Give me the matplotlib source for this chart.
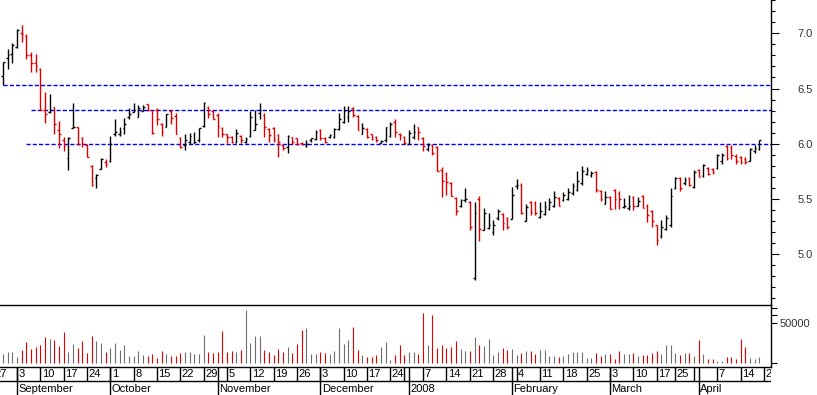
import numpy as np
import pandas as pd
import matplotlib
matplotlib.use("Agg")
import matplotlib.pyplot as plt
from matplotlib.ticker import MultipleLocator, FormatStrFormatter, FixedLocator

plt.rcParams['font.family'] = ['Liberation Sans', 'DejaVu Sans']

# ---------------- data ----------------
holidays = ["2007-12-25", "2007-12-26", "2008-01-01", "2008-03-21", "2008-03-24"]
calendar_start = "2007-08-27"
calendar_end = "2008-04-25"
first_bar = "2007-08-29"

opens = [6.61, 6.78, 6.81, 6.88, 7.00, 6.98, 6.80, 6.73, 6.68, 6.31,
         6.29, 6.33, 6.12, 6.03, 5.87, 6.14, 6.15, 6.05, 5.99, 5.80,
         5.69, 5.77, 5.83, 5.84, 6.09, 6.09, 6.14, 6.24, 6.29, 6.24,
         6.30, 6.36, 6.31, 6.31, 6.18, 6.15, 6.30, 6.25, 6.05, 5.99,
         6.02, 6.01, 6.03, 6.16, 6.33, 6.30, 6.26, 6.14, 6.09, 6.06,
         6.02, 6.07, 6.02, 6.07, 6.12, 6.28, 6.26, 6.13, 6.14, 6.08,
         5.99, 5.97, 6.06, 6.05, 6.01, 5.98, 6.03, 6.04, 6.12, 6.05,
         6.06, 6.06, 6.13, 6.20, 6.24, 6.32, 6.25, 6.09, 6.13, 6.09,
         6.06, 6.01, 6.03, 6.07, 6.20, 6.09, 6.06, 6.00, 6.06, 6.15,
         6.05, 5.95, 5.99, 5.97, 5.76, 5.73, 5.64, 5.51, 5.44, 5.49,
         5.47, 4.78, 5.50, 5.22, 5.24, 5.20, 5.33, 5.36, 5.33, 5.32,
         5.62, 5.63, 5.30, 5.47, 5.46, 5.34, 5.36, 5.41, 5.44, 5.51,
         5.49, 5.50, 5.55, 5.58, 5.64, 5.73, 5.72, 5.74, 5.57, 5.45,
         5.52, 5.58, 5.55, 5.43, 5.42, 5.52, 5.44, 5.53, 5.44, 5.39,
         5.26, 5.16, 5.23, 5.26, 5.60, 5.69, 5.64, 5.69, 5.61, 5.76,
         5.71, 5.78, 5.77, 5.78, 5.84, 5.98, 5.97, 5.89, 5.88, 5.86,
         5.84, 5.93, 5.95]
highs = [6.74, 6.86, 6.91, 7.04, 7.08, 6.99, 6.83, 6.81, 6.69, 6.47,
         6.45, 6.33, 6.21, 6.06, 6.06, 6.37, 6.15, 6.06, 6.00, 5.81,
         5.73, 5.87, 5.86, 6.07, 6.22, 6.15, 6.23, 6.32, 6.37, 6.35,
         6.35, 6.36, 6.31, 6.32, 6.19, 6.27, 6.31, 6.28, 6.06, 6.09,
         6.10, 6.11, 6.14, 6.38, 6.34, 6.31, 6.28, 6.15, 6.09, 6.07,
         6.13, 6.08, 6.06, 6.30, 6.31, 6.37, 6.28, 6.14, 6.15, 6.09,
         6.00, 6.08, 6.06, 6.05, 6.02, 6.03, 6.05, 6.12, 6.13, 6.06,
         6.09, 6.14, 6.28, 6.34, 6.34, 6.33, 6.26, 6.19, 6.14, 6.09,
         6.07, 6.03, 6.15, 6.20, 6.22, 6.10, 6.07, 6.12, 6.18, 6.15,
         6.06, 6.01, 6.00, 5.98, 5.79, 5.74, 5.65, 5.52, 5.50, 5.60,
         5.48, 5.47, 5.53, 5.42, 5.37, 5.31, 5.41, 5.37, 5.34, 5.61,
         5.68, 5.64, 5.45, 5.48, 5.48, 5.47, 5.48, 5.51, 5.57, 5.52,
         5.56, 5.60, 5.64, 5.75, 5.80, 5.79, 5.75, 5.75, 5.58, 5.57,
         5.53, 5.59, 5.57, 5.51, 5.54, 5.53, 5.52, 5.54, 5.45, 5.40,
         5.26, 5.31, 5.35, 5.60, 5.70, 5.70, 5.70, 5.70, 5.76, 5.77,
         5.82, 5.79, 5.78, 5.91, 5.92, 5.99, 5.99, 5.91, 5.89, 5.88,
         5.96, 5.99, 6.03]
lows = [6.53, 6.68, 6.73, 6.87, 6.92, 6.77, 6.65, 6.65, 6.31, 6.19,
        6.28, 6.09, 5.96, 5.93, 5.76, 6.14, 5.99, 5.97, 5.88, 5.62,
        5.60, 5.77, 5.79, 5.83, 6.07, 6.07, 6.09, 6.22, 6.29, 6.24,
        6.30, 6.30, 6.09, 6.17, 6.07, 6.15, 6.18, 6.09, 5.96, 5.94,
        6.00, 6.01, 6.02, 6.15, 6.23, 6.22, 6.06, 6.06, 6.01, 6.01,
        6.01, 6.01, 6.01, 6.06, 6.12, 6.22, 6.06, 6.02, 6.02, 5.88,
        5.94, 5.92, 6.00, 5.99, 5.99, 5.97, 6.02, 6.03, 6.03, 6.01,
        6.05, 6.05, 6.12, 6.19, 6.20, 6.24, 6.12, 6.09, 6.05, 6.03,
        6.02, 6.01, 6.02, 6.06, 6.06, 6.03, 6.00, 6.00, 6.04, 6.03,
        5.93, 5.93, 5.90, 5.75, 5.52, 5.54, 5.53, 5.35, 5.43, 5.47,
        5.22, 4.77, 5.12, 5.22, 5.23, 5.17, 5.31, 5.22, 5.23, 5.32,
        5.59, 5.36, 5.30, 5.35, 5.35, 5.33, 5.35, 5.40, 5.43, 5.44,
        5.48, 5.49, 5.54, 5.57, 5.63, 5.72, 5.70, 5.56, 5.48, 5.45,
        5.41, 5.41, 5.41, 5.42, 5.40, 5.40, 5.44, 5.42, 5.29, 5.25,
        5.08, 5.15, 5.22, 5.25, 5.59, 5.57, 5.63, 5.62, 5.60, 5.70,
        5.70, 5.72, 5.73, 5.77, 5.82, 5.85, 5.86, 5.82, 5.82, 5.82,
        5.84, 5.92, 5.94]
closes = [6.74, 6.80, 6.89, 7.03, 6.99, 6.80, 6.73, 6.70, 6.31, 6.27,
          6.31, 6.18, 6.09, 5.98, 6.05, 6.15, 6.00, 6.00, 5.88, 5.63,
          5.72, 5.86, 5.82, 6.00, 6.11, 6.11, 6.18, 6.27, 6.31, 6.32,
          6.33, 6.31, 6.10, 6.22, 6.11, 6.27, 6.23, 6.09, 5.97, 6.03,
          6.07, 6.02, 6.14, 6.37, 6.27, 6.22, 6.16, 6.09, 6.06, 6.02,
          6.10, 6.03, 6.04, 6.24, 6.18, 6.31, 6.15, 6.08, 6.03, 6.02,
          5.96, 6.07, 6.02, 6.00, 6.00, 6.00, 6.05, 6.11, 6.05, 6.02,
          6.08, 6.13, 6.22, 6.30, 6.30, 6.26, 6.12, 6.14, 6.06, 6.04,
          6.03, 6.025, 6.15, 6.18, 6.11, 6.08, 6.01, 6.10, 6.11, 6.11,
          5.98, 5.99, 5.92, 5.75, 5.66, 5.65, 5.53, 5.39, 5.49, 5.50,
          5.25, 5.37, 5.23, 5.37, 5.26, 5.26, 5.39, 5.28, 5.25, 5.54,
          5.63, 5.37, 5.43, 5.38, 5.37, 5.39, 5.43, 5.47, 5.52, 5.44,
          5.54, 5.56, 5.62, 5.66, 5.75, 5.76, 5.735, 5.58, 5.50, 5.52,
          5.41, 5.50, 5.50, 5.44, 5.44, 5.44, 5.48, 5.42, 5.35, 5.30,
          5.13, 5.25, 5.33, 5.53, 5.69, 5.60, 5.67, 5.63, 5.74, 5.70,
          5.81, 5.73, 5.74, 5.90, 5.90, 5.87, 5.90, 5.84, 5.83, 5.83,
          5.95, 5.96, 6.03]
volumes = [11000, 13200, 13200, 6800, 16100, 26300, 17400, 20400, 22900, 32600,
           30100, 28800, 21200, 39000, 13600, 23700, 18700, 27500, 12700, 33900,
           27500, 25000, 13600, 18700, 25000, 16100, 22500, 8500, 8500, 14900,
           9800, 8500, 11000, 6000, 14900, 11000, 8500, 8500, 12300, 13600,
           13600, 11000, 11000, 35200, 13600, 12300, 13600, 40200, 13600, 14900,
           13600, 16100, 66900, 25000, 33900, 33900, 16100, 13600, 9800, 17400,
           13600, 19900, 12300, 23700, 41500, 44000, 11000, 11000, 13600, 12300,
           11000, 14900, 44000, 23700, 28800, 45300, 16100, 9800, 7200, 7200,
           9800, 19900, 26300, 3400, 9800, 22900, 9800, 13200, 13200, 11000,
           63500, 22500, 60500, 18200, 22500, 19100, 20400, 27500, 17400, 14900,
           14900, 33000, 22500, 21200, 30100, 9800, 13200, 18200, 16100, 17400,
           9800, 11900, 14900, 14900, 11000, 16100, 16100, 8500, 8500, 7700,
           8500, 11000, 13200, 13200, 14000, 5500, 5500, 12700, 8500, 11000,
           11000, 4300, 14900, 11000, 11000, 12300, 8500, 9800, 9800, 12300,
           14900, 11000, 22500, 22500, 12300, 9800, 12300, 12300, 8500, 28800,
           11000, 4700, 4300, 2600, 2200, 7700, 7700, 4700, 30100, 19900,
           6000, 4300, 7700]

levels = [6.53, 6.31, 6.00]
level_starts = ["2007-08-29", "2007-09-06", "2007-09-05"]

price_ticks_major = 0.5
price_ticks_minor = 0.1
volume_ticks = [0, 50000, 60000, 70000]
volume_tick_labels = ["", "50000", "", ""]
month_names = {1: "2008", 2: "February", 3: "March", 4: "April", 8: "August",
               9: "September", 10: "October", 11: "November", 12: "December"}

# ---------------- calendar ----------------
cal = pd.bdate_range(calendar_start, calendar_end)
cal = cal[~cal.isin(pd.to_datetime(holidays))]
start = cal.get_loc(pd.Timestamp(first_bar))
n = len(opens)
x = np.arange(start, start + n)
o = np.array(opens); h = np.array(highs); l = np.array(lows); c = np.array(closes)
v = np.array(volumes)
down = c < o

W, H = 817, 395
fig = plt.figure(figsize=(W / 100, H / 100), dpi=100)
fig.patch.set_facecolor("white")

x_left = (0 + 6.5) / 4.67
x_right = (771 + 6.5) / 4.67
ax_p = fig.add_axes([0, 90 / H, 771 / W, 305 / H])
ax_v = fig.add_axes([0, 28.3 / H, 771 / W, 61.7 / H])
ax_d = fig.add_axes([0, 0, 771 / W, 28.3 / H])
for ax in (ax_p, ax_v, ax_d):
    ax.set_xlim(x_left, x_right)
    ax.set_facecolor("white")
    for s in ax.spines.values():
        s.set_visible(False)
    ax.tick_params(axis="x", which="both", bottom=False, top=False,
                   labelbottom=False, labeltop=False)

RED = "#e00000"
GRAY = "#6e6e6e"

# ---------------- price panel ----------------
ax_p.set_ylim(4.539, 7.302)
tw = 0.36
bar_cols = [RED if d else "black" for d in down]
ax_p.vlines(x, l, h, colors=bar_cols, lw=1.0, zorder=3)
ax_p.hlines(o, x - tw, x, colors=bar_cols, lw=1.0, zorder=3)
ax_p.hlines(c, x, x + tw, colors=bar_cols, lw=1.0, zorder=3)

for lev, ls in zip(levels, level_starts):
    xs = cal.get_loc(pd.Timestamp(ls))
    ax_p.hlines(lev, xs, x_right, colors="#0000ff", lw=1.0,
                linestyles=(0, (3, 1.5)), zorder=2)

ax_p.spines["right"].set_visible(True)
ax_p.spines["right"].set_linewidth(1.0)
ax_p.yaxis.tick_right()
ax_p.yaxis.set_major_locator(MultipleLocator(price_ticks_major))
ax_p.yaxis.set_minor_locator(MultipleLocator(price_ticks_minor))
ax_p.yaxis.set_major_formatter(FormatStrFormatter("%.1f"))
ax_p.tick_params(axis="y", which="major", length=6, width=0.8, pad=13,
                 labelsize=8, labelcolor="#333333", direction="out")
ax_p.tick_params(axis="y", which="minor", length=3, width=0.8, direction="out")

# ---------------- volume panel ----------------
ax_v.set_ylim(-5076, 73200)
vol_cols = [RED if d else GRAY for d in down]
ax_v.vlines(x, 0, v, colors=vol_cols, lw=0.8)
ax_v.spines["right"].set_visible(True)
ax_v.spines["top"].set_visible(True)
ax_v.spines["right"].set_linewidth(1.0)
ax_v.spines["top"].set_linewidth(1.0)
ax_v.yaxis.tick_right()
ax_v.yaxis.set_major_locator(FixedLocator(volume_ticks))
ax_v.set_yticklabels(volume_tick_labels)
ax_v.tick_params(axis="y", which="major", length=4, width=0.8, pad=2,
                 labelsize=8, labelcolor="#333333", direction="out")

# ---------------- date axis ----------------
ax_d.set_ylim(0, 2)
ax_d.spines["top"].set_visible(True)
ax_d.spines["top"].set_linewidth(1.0)
ax_d.axhline(1, color="black", lw=1.0)
ax_d.set_yticks([])

week_id = cal.isocalendar().week.values
week_starts = [0] + [j for j in range(1, len(cal)) if week_id[j] != week_id[j - 1]]
month_starts = [j for j in range(1, len(cal)) if cal[j].month != cal[j - 1].month]

for j in month_starts:
    ax_d.vlines(j, 0, 2, colors="black", lw=1.0)
    ax_d.text(j + 0.3, 0.45, month_names[cal[j].month], fontsize=8,
              ha="left", va="center", clip_on=True)
for j in week_starts:
    ax_d.vlines(j, 1, 2, colors="black", lw=1.0)
    nxt = [m for m in month_starts if m > j]
    if nxt and nxt[0] - j <= 2:
        continue
    ax_d.text(j + 0.3, 1.45, str(cal[j].day), fontsize=8,
              ha="left", va="center", clip_on=True)

fig.savefig("out.png", dpi=100, facecolor="white")
